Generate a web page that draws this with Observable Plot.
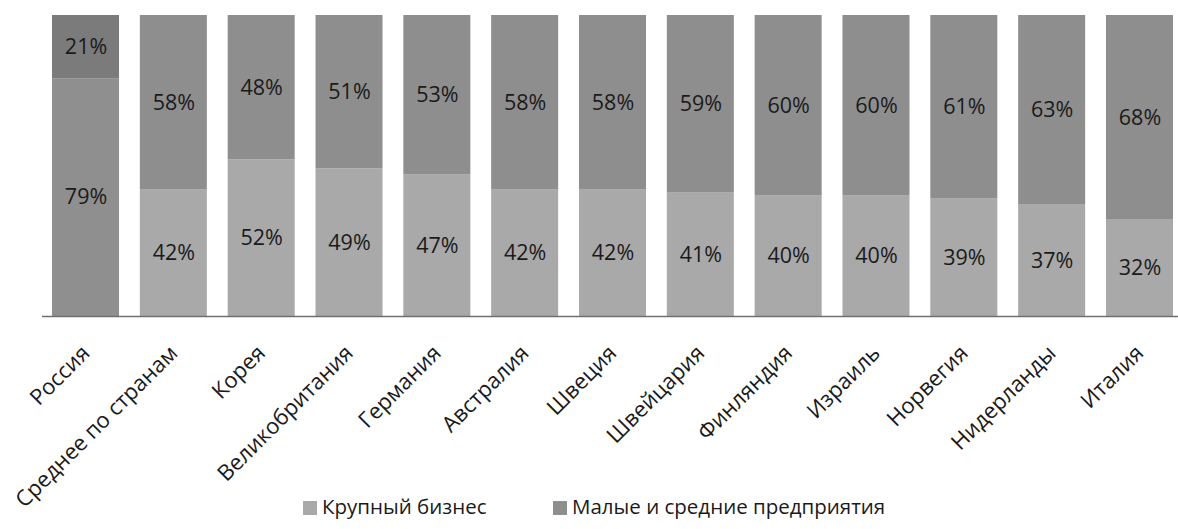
<!DOCTYPE html>
<html>
<head>
<meta charset="utf-8">
<script src="https://cdn.jsdelivr.net/npm/d3@7"></script>
<script src="https://cdn.jsdelivr.net/npm/@observablehq/plot@0.6"></script>
<style>
  body { margin: 0; background: #fff; font-family: "Open Sans", "Noto Sans", sans-serif; overflow: hidden; }
  #legend { position: relative; height: 30px; font-size: 20.5px; color: #1a1a1a; margin-top: 3px; line-height: 26px; }
  #legend .item { position: absolute; top: 0; white-space: nowrap; }
  #legend span.sw { display: inline-block; width: 14px; height: 14px; margin-right: 5px; vertical-align: -1px; }
</style>
</head>
<body>
<div id="chart"></div>
<div id="legend"></div>
<script>
const countries = ["Россия","Среднее по странам","Корея","Великобритания","Германия","Австралия","Швеция","Швейцария","Финляндия","Израиль","Норвегия","Нидерланды","Италия"];
const largeBusiness = [79,42,52,49,47,42,42,41,40,40,39,37,32];
const smallMedium = [21,58,48,51,53,58,58,59,60,60,61,63,68];
const seriesNames = ["Крупный бизнес","Малые и средние предприятия"];

const rows = [];
countries.forEach((c, i) => {
  rows.push({country: c, series: seriesNames[0], value: largeBusiness[i]});
  rows.push({country: c, series: seriesNames[1], value: smallMedium[i]});
});

const colorOf = d => d.country === "Россия"
  ? (d.series === seriesNames[0] ? "#8f8f8f" : "#7b7b7b")
  : (d.series === seriesNames[0] ? "#a9a9a9" : "#8e8e8e");

const chart = Plot.plot({
  width: 1178,
  height: 490,
  marginLeft: 42,
  marginRight: 0,
  marginTop: 15,
  marginBottom: 174,
  style: {fontFamily: "Open Sans, Noto Sans, sans-serif", fontSize: "18px", color: "#1a1a1a", background: "#fff", overflow: "visible"},
  x: {domain: countries, range: [42, 1183], paddingInner: 0.237, paddingOuter: 0.114, round: false, label: null},
  y: {domain: [0, 100], axis: null},
  marks: [
    Plot.barY(rows, Plot.stackY({x: "country", y: "value", fill: colorOf})),
    Plot.text(rows, Plot.stackY({x: "country", y: "value", text: d => d.value + "%", fill: "#1a1a1a", fontSize: 21.5})),
    Plot.ruleY([0], {stroke: "#6f6f6f", strokeWidth: 1.5}),
    Plot.axisX({tickRotate: -45, tickSize: 0, tickPadding: 33, dx: 0, fontSize: 22, label: null, fill: "#1a1a1a"})
  ]
});
document.getElementById("chart").appendChild(chart);

const legendColors = ["#a9a9a9", "#8e8e8e"];
const legendLeft = [303, 553];
const legend = document.getElementById("legend");
seriesNames.forEach((name, i) => {
  const item = document.createElement("div");
  item.className = "item";
  item.style.left = legendLeft[i] + "px";
  item.innerHTML = `<span class="sw" style="background:${legendColors[i]}"></span>${name}`;
  legend.appendChild(item);
});
</script>
</body>
</html>
